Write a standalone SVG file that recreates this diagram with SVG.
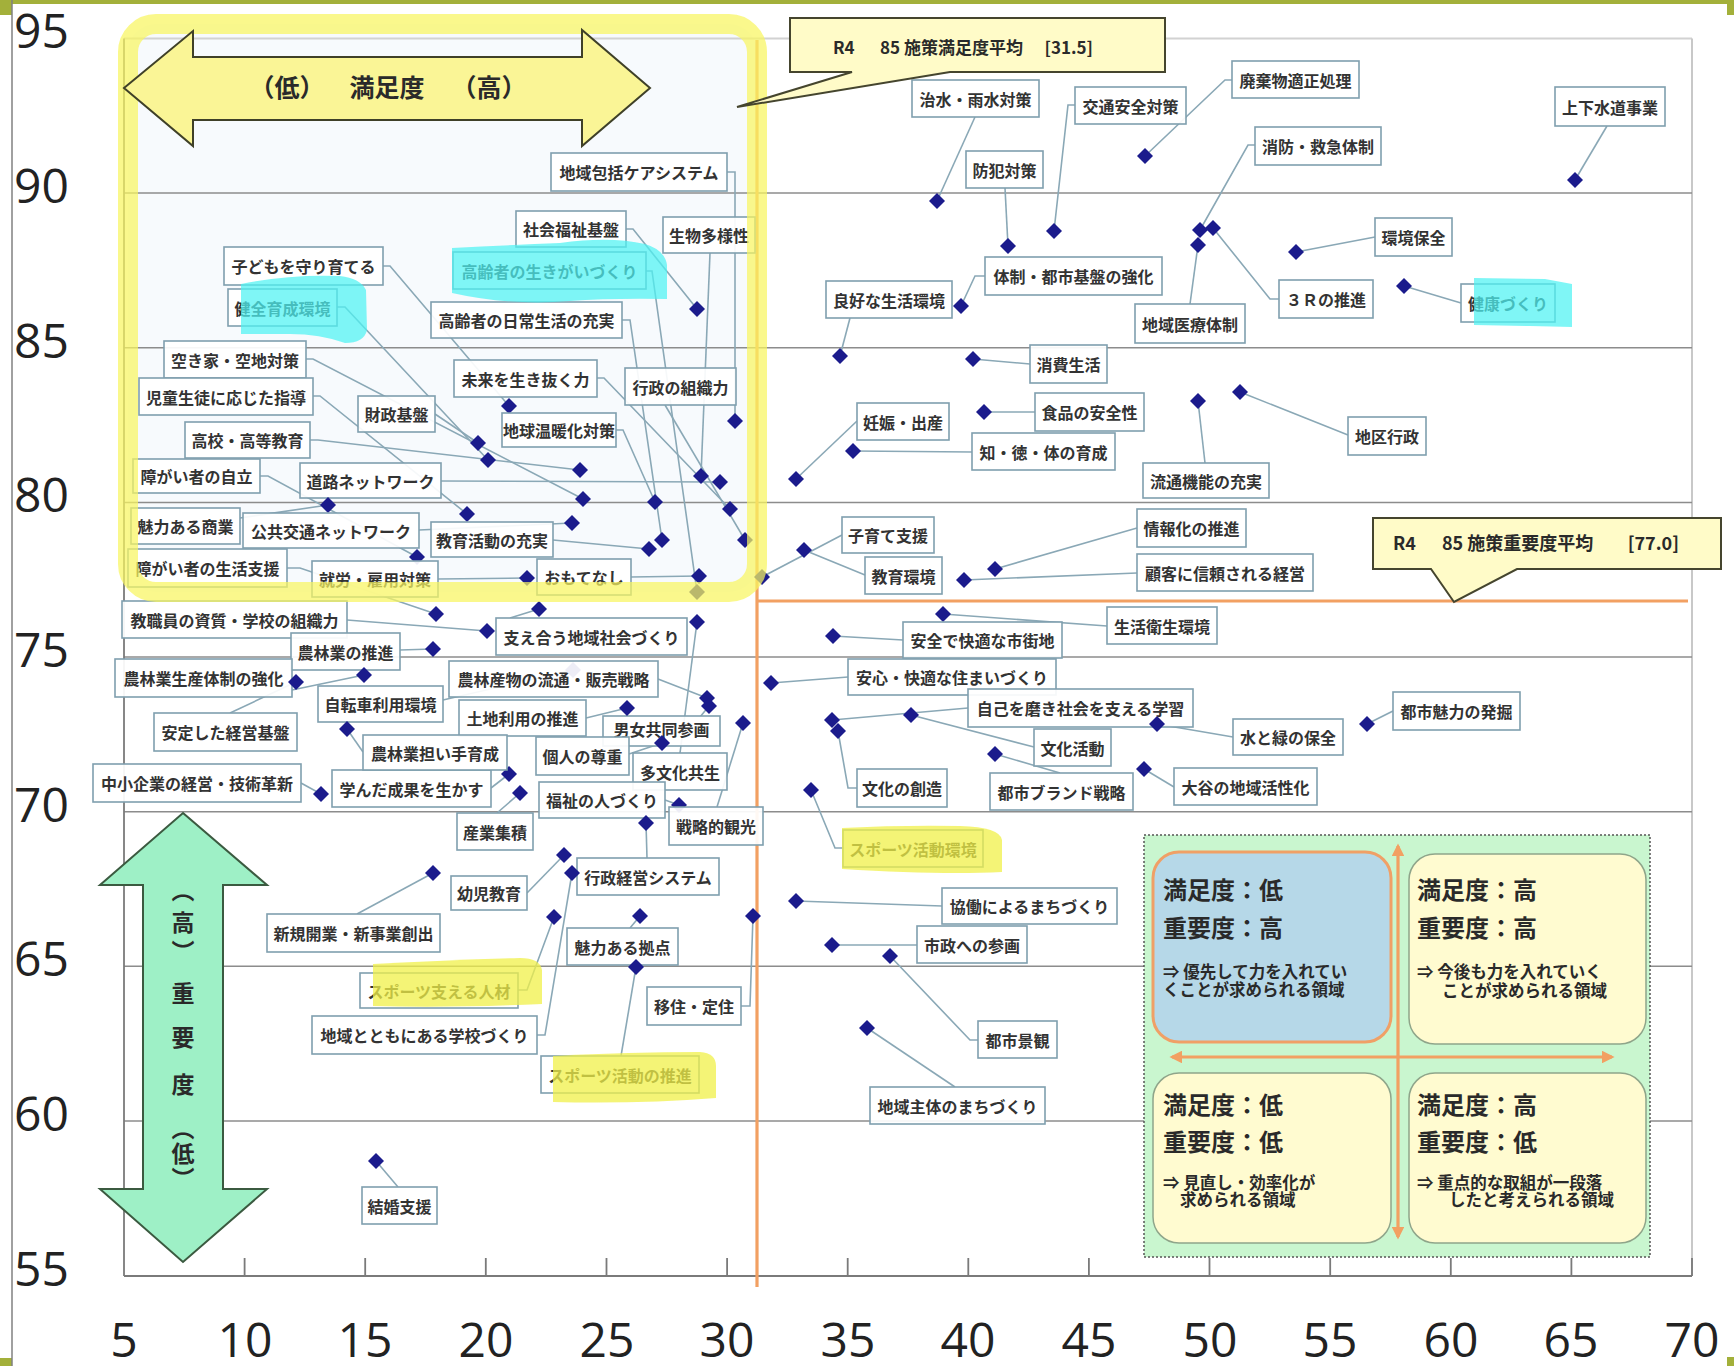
<svg xmlns="http://www.w3.org/2000/svg" xmlns:xlink="http://www.w3.org/1999/xlink" width="1734" height="1366" viewBox="0 0 1734 1366">
<style>
  .grid{stroke:#8c8c8c;stroke-width:1.5;fill:none}
  .axis{stroke:#7a7a7a;stroke-width:1.8;fill:none}
  .num{font-family:"Open Sans","Liberation Sans",sans-serif;font-size:48px;fill:#222}
  .con{stroke:#8aa8b6;stroke-width:1.6;fill:none}
  .lb{fill:#ffffff;fill-opacity:0.92;stroke:#7f9fae;stroke-width:1.6}
  .lt{font-family:"Noto Sans CJK JP",sans-serif;font-size:16px;font-weight:bold;fill:#333;text-anchor:middle;dominant-baseline:central}
  .big{font-family:"Noto Sans CJK JP",sans-serif;font-weight:bold;fill:#2a2a2a}
  .q{font-family:"Noto Sans CJK JP",sans-serif;font-weight:bold;fill:#2a2a2a;font-size:24px}
  .qs{font-family:"Noto Sans CJK JP",sans-serif;font-weight:bold;fill:#2a2a2a;font-size:16.5px}
  .cyan{fill:#4ef2f2;fill-opacity:0.72}
  .yel{fill:#f0f048;fill-opacity:0.75}
  .orange{stroke:#f2a062;stroke-width:3.2;fill:none}
  .qbox{fill:#fffbd0;stroke:#8fa58a;stroke-width:1.5}
</style>
<defs>
  <path id="dm" d="M0,-8 L8,0 L0,8 L-8,0 Z" fill="#1b1b8c"/>
  <marker id="oa" viewBox="0 0 10 10" refX="8" refY="5" markerWidth="4" markerHeight="4" orient="auto-start-reverse">
    <path d="M0,0 L10,5 L0,10 Z" fill="#f2a062"/>
  </marker>
</defs>

<!-- page frame -->
<rect x="0" y="0" width="1734" height="1366" fill="#ffffff"/>
<rect x="0" y="0" width="1734" height="4" fill="#a3b03a"/>
<rect x="0" y="0" width="12" height="15" fill="#a3b03a"/>
<rect x="1727" y="0" width="7" height="15" fill="#a3b03a"/>
<rect x="0" y="1358" width="12" height="8" fill="#a3b03a"/>
<rect x="1727" y="1357" width="7" height="9" fill="#a3b03a"/>
<line x1="12" y1="0" x2="12" y2="1366" stroke="#808080" stroke-width="1.5"/>

<!-- highlighted region fill -->
<rect x="128" y="24" width="629" height="568" rx="28" fill="#f1f7fc" fill-opacity="0.6"/>

<!-- plot grid -->
<g id="grid">
  <line x1="124" y1="38.5" x2="1692" y2="38.5" stroke="#d2d2d2" stroke-width="2"/>
  <line x1="1692" y1="38.5" x2="1692" y2="1276" stroke="#c8c8c8" stroke-width="2"/>
  <line class="grid" x1="124" y1="193" x2="1692" y2="193"/>
  <line class="grid" x1="124" y1="347.7" x2="1692" y2="347.7"/>
  <line class="grid" x1="124" y1="502.4" x2="1692" y2="502.4"/>
  <line class="grid" x1="124" y1="657" x2="1692" y2="657"/>
  <line class="grid" x1="124" y1="811.7" x2="1692" y2="811.7"/>
  <line class="grid" x1="124" y1="966.3" x2="1692" y2="966.3"/>
  <line class="grid" x1="124" y1="1121" x2="1692" y2="1121"/>
  <line class="axis" x1="124" y1="38.5" x2="124" y2="1276"/>
  <line class="axis" x1="124" y1="1276" x2="1692" y2="1276"/>
  <path class="axis" d="M244.6,1276v-18 M365.2,1276v-18 M485.8,1276v-18 M606.5,1276v-18 M727.1,1276v-18 M847.7,1276v-18 M968.3,1276v-18 M1088.9,1276v-18 M1209.5,1276v-18 M1330.2,1276v-18 M1450.8,1276v-18 M1571.4,1276v-18 M1692,1276v-18"/>
</g>

<!-- axis numbers -->
<g id="yaxis" class="num">
  <text x="14" y="48">95</text>
  <text x="14" y="203">90</text>
  <text x="14" y="358">85</text>
  <text x="14" y="512">80</text>
  <text x="14" y="667">75</text>
  <text x="14" y="822">70</text>
  <text x="14" y="976">65</text>
  <text x="14" y="1131">60</text>
  <text x="14" y="1286">55</text>
</g>
<g id="xaxis" class="num" text-anchor="middle">
  <text x="124" y="1357">5</text>
  <text x="245" y="1357">10</text>
  <text x="365" y="1357">15</text>
  <text x="486" y="1357">20</text>
  <text x="607" y="1357">25</text>
  <text x="727" y="1357">30</text>
  <text x="848" y="1357">35</text>
  <text x="968" y="1357">40</text>
  <text x="1089" y="1357">45</text>
  <text x="1210" y="1357">50</text>
  <text x="1330" y="1357">55</text>
  <text x="1451" y="1357">60</text>
  <text x="1571" y="1357">65</text>
  <text x="1692" y="1357">70</text>
</g>

<!-- average lines -->
<g id="averages">
  <line class="orange" x1="757" y1="40" x2="757" y2="1287"/>
  <line class="orange" x1="757" y1="601" x2="1688" y2="601"/>
</g>

<!-- leader lines -->
<g id="connectors" class="con">
  <polyline points="383,266 390,266 509,406"/>
  <polyline points="337,307 345,307 488,460"/>
  <polyline points="306,359 313,359 583,499"/>
  <polyline points="313,396 320,396 467,514"/>
  <polyline points="435,414 478,443"/>
  <polyline points="310,440 318,440 580,470"/>
  <polyline points="260,476 268,476 417,557"/>
  <polyline points="441,481 720,482"/>
  <polyline points="240,518 328,505"/>
  <polyline points="419,530 572,523"/>
  <polyline points="287,568 300,568 436,614"/>
  <polyline points="438,579 527,578"/>
  <polyline points="553,540 649,549"/>
  <polyline points="631,577 699,576"/>
  <polyline points="727,172 735,172 735,421"/>
  <polyline points="626,229 633,229 697,309"/>
  <polyline points="710,253 701,476"/>
  <polyline points="646,271 652,271 697,592"/>
  <polyline points="622,320 630,320 662,540"/>
  <polyline points="597,378 604,378 730,509"/>
  <polyline points="665,405 745,540"/>
  <polyline points="616,430 623,430 655,502"/>
  <polyline points="347,620 487,631"/>
  <polyline points="400,650 433,649"/>
  <polyline points="292,690 364,675"/>
  <polyline points="443,700 573,670"/>
  <polyline points="230,713 296,682"/>
  <polyline points="510,618 539,609"/>
  <polyline points="658,679 707,698"/>
  <polyline points="586,718 627,708"/>
  <polyline points="700,717 709,706"/>
  <polyline points="629,754 662,743"/>
  <polyline points="680,753 697,622"/>
  <polyline points="665,800 679,805"/>
  <polyline points="717,807 743,723"/>
  <polyline points="497,813 520,793"/>
  <polyline points="491,788 509,774"/>
  <polyline points="301,783 321,794"/>
  <polyline points="363,752 347,729"/>
  <polyline points="647,858 646,823"/>
  <polyline points="527,893 564,855"/>
  <polyline points="357,914 433,873"/>
  <polyline points="518,990 527,990 554,917"/>
  <polyline points="537,1035 545,1035 572,873"/>
  <polyline points="630,928 640,916"/>
  <polyline points="621,1056 636,967"/>
  <polyline points="741,1006 750,1006 753,916"/>
  <polyline points="398,1187 376,1161"/>
  <polyline points="850,318 840,356"/>
  <polyline points="985,276 975,276 961,306"/>
  <polyline points="975,117 937,201"/>
  <polyline points="1005,188 1008,246"/>
  <polyline points="1075,105 1068,105 1054,231"/>
  <polyline points="1232,80 1225,80 1145,156"/>
  <polyline points="1255,145 1248,145 1200,230"/>
  <polyline points="1607,126 1575,180"/>
  <polyline points="1375,237 1296,252"/>
  <polyline points="1279,299 1270,299 1213,228"/>
  <polyline points="1461,303 1404,286"/>
  <polyline points="1190,304 1198,245"/>
  <polyline points="1030,364 973,359"/>
  <polyline points="1035,412 984,412"/>
  <polyline points="972,452 853,451"/>
  <polyline points="857,421 796,479"/>
  <polyline points="1205,463 1198,401"/>
  <polyline points="1348,435 1240,392"/>
  <polyline points="842,535 762,577"/>
  <polyline points="865,575 804,550"/>
  <polyline points="1137,528 995,569"/>
  <polyline points="1137,573 964,580"/>
  <polyline points="1107,626 943,614"/>
  <polyline points="903,640 833,636"/>
  <polyline points="848,677 771,683"/>
  <polyline points="968,708 832,720"/>
  <polyline points="1034,747 911,715"/>
  <polyline points="1233,737 1157,724"/>
  <polyline points="1393,711 1367,724"/>
  <polyline points="1174,787 1144,769"/>
  <polyline points="1060,773 995,754"/>
  <polyline points="857,788 848,788 838,731"/>
  <polyline points="843,848 835,848 811,790"/>
  <polyline points="942,906 796,901"/>
  <polyline points="917,945 832,945"/>
  <polyline points="978,1040 970,1040 890,956"/>
  <polyline points="955,1087 867,1028"/>
</g>

<!-- measures: marker + label -->
<g id="n01"><use href="#dm" x="509" y="406"/><rect class="lb" x="224" y="247" width="159" height="38"/><text class="lt" x="303.5" y="266">子どもを守り育てる</text></g>
<g id="n02"><use href="#dm" x="488" y="460"/><rect class="lb" x="228" y="289" width="109" height="37"/><text class="lt" x="282.5" y="307.5">健全育成環境</text></g>
<g id="n03"><use href="#dm" x="583" y="499"/><rect class="lb" x="164" y="341" width="142" height="37"/><text class="lt" x="235" y="359.5">空き家・空地対策</text></g>
<g id="n04"><use href="#dm" x="467" y="514"/><rect class="lb" x="139" y="378" width="174" height="37"/><text class="lt" x="226" y="396.5">児童生徒に応じた指導</text></g>
<g id="n05"><use href="#dm" x="478" y="443"/><rect class="lb" x="358" y="396" width="77" height="36"/><text class="lt" x="396.5" y="414">財政基盤</text></g>
<g id="n06"><use href="#dm" x="580" y="470"/><rect class="lb" x="185" y="422" width="125" height="36"/><text class="lt" x="247.5" y="440">高校・高等教育</text></g>
<g id="n07"><use href="#dm" x="417" y="557"/><rect class="lb" x="133" y="459" width="127" height="34"/><text class="lt" x="196.5" y="476">障がい者の自立</text></g>
<g id="n08"><use href="#dm" x="720" y="482"/><rect class="lb" x="300" y="463" width="141" height="35"/><text class="lt" x="370.5" y="480.5">道路ネットワーク</text></g>
<g id="n09"><use href="#dm" x="328" y="505"/><rect class="lb" x="131" y="508" width="109" height="36"/><text class="lt" x="185.5" y="526">魅力ある商業</text></g>
<g id="n10"><use href="#dm" x="572" y="523"/><rect class="lb" x="243" y="513" width="176" height="35"/><text class="lt" x="331" y="530.5">公共交通ネットワーク</text></g>
<g id="n11"><use href="#dm" x="436" y="614"/><rect class="lb" x="128" y="549" width="159" height="38"/><text class="lt" x="207.5" y="568">障がい者の生活支援</text></g>
<g id="n12"><use href="#dm" x="527" y="578"/><rect class="lb" x="312" y="561" width="126" height="36"/><text class="lt" x="375" y="579">就労・雇用対策</text></g>
<g id="n13"><use href="#dm" x="649" y="549"/><rect class="lb" x="431" y="522" width="122" height="35"/><text class="lt" x="492" y="539.5">教育活動の充実</text></g>
<g id="n14"><use href="#dm" x="699" y="576"/><rect class="lb" x="537" y="559" width="94" height="36"/><text class="lt" x="584" y="577">おもてなし</text></g>
<g id="n15"><use href="#dm" x="735" y="421"/><rect class="lb" x="551" y="153" width="176" height="38"/><text class="lt" x="639" y="172">地域包括ケアシステム</text></g>
<g id="n16"><use href="#dm" x="697" y="309"/><rect class="lb" x="516" y="211" width="110" height="36"/><text class="lt" x="571" y="229">社会福祉基盤</text></g>
<g id="n17"><use href="#dm" x="701" y="476"/><rect class="lb" x="663" y="217" width="92" height="36"/><text class="lt" x="709" y="235">生物多様性</text></g>
<g id="n18"><use href="#dm" x="697" y="592"/><rect class="lb" x="453" y="252" width="193" height="37"/><text class="lt" x="549.5" y="270.5">高齢者の生きがいづくり</text></g>
<g id="n19"><use href="#dm" x="662" y="540"/><rect class="lb" x="431" y="302" width="191" height="36"/><text class="lt" x="526.5" y="320">高齢者の日常生活の充実</text></g>
<g id="n20"><use href="#dm" x="730" y="509"/><rect class="lb" x="454" y="360" width="143" height="37"/><text class="lt" x="525.5" y="378.5">未来を生き抜く力</text></g>
<g id="n21"><use href="#dm" x="745" y="540"/><rect class="lb" x="625" y="368" width="111" height="37"/><text class="lt" x="680.5" y="386.5">行政の組織力</text></g>
<g id="n22"><use href="#dm" x="655" y="502"/><rect class="lb" x="502" y="413" width="114" height="34"/><text class="lt" x="559" y="430">地球温暖化対策</text></g>
<g id="n23"><use href="#dm" x="487" y="631"/><rect class="lb" x="122" y="601" width="225" height="37"/><text class="lt" x="234.5" y="619.5">教職員の資質・学校の組織力</text></g>
<g id="n24"><use href="#dm" x="433" y="649"/><rect class="lb" x="291" y="633" width="109" height="37"/><text class="lt" x="345.5" y="651.5">農林業の推進</text></g>
<g id="n25"><use href="#dm" x="364" y="675"/><rect class="lb" x="115" y="659" width="177" height="38"/><text class="lt" x="203.5" y="678">農林業生産体制の強化</text></g>
<g id="n26"><use href="#dm" x="573" y="670"/><rect class="lb" x="318" y="686" width="125" height="36"/><text class="lt" x="380.5" y="704">自転車利用環境</text></g>
<g id="n27"><use href="#dm" x="296" y="682"/><rect class="lb" x="154" y="713" width="143" height="38"/><text class="lt" x="225.5" y="732">安定した経営基盤</text></g>
<g id="n28"><use href="#dm" x="539" y="609"/><rect class="lb" x="496" y="618" width="191" height="37"/><text class="lt" x="591.5" y="636.5">支え合う地域社会づくり</text></g>
<g id="n29"><use href="#dm" x="707" y="698"/><rect class="lb" x="449" y="661" width="209" height="36"/><text class="lt" x="553.5" y="679">農林産物の流通・販売戦略</text></g>
<g id="n31"><use href="#dm" x="709" y="706"/><rect class="lb" x="603" y="716" width="117" height="30"/><text class="lt" x="661.5" y="729">男女共同参画</text></g>
<g id="n30"><use href="#dm" x="627" y="708"/><rect class="lb" x="459" y="700" width="127" height="36"/><text class="lt" x="522.5" y="718">土地利用の推進</text></g>
<g id="n32"><use href="#dm" x="662" y="743"/><rect class="lb" x="536" y="737" width="93" height="38"/><text class="lt" x="582.5" y="756">個人の尊重</text></g>
<g id="n33"><use href="#dm" x="697" y="622"/><rect class="lb" x="633" y="753" width="94" height="37"/><text class="lt" x="680" y="771.5">多文化共生</text></g>
<g id="n34"><use href="#dm" x="679" y="805"/><rect class="lb" x="539" y="782" width="126" height="36"/><text class="lt" x="602" y="800">福祉の人づくり</text></g>
<g id="n35"><use href="#dm" x="743" y="723"/><rect class="lb" x="669" y="807" width="94" height="38"/><text class="lt" x="716" y="826">戦略的観光</text></g>
<g id="n36"><use href="#dm" x="520" y="793"/><rect class="lb" x="457" y="813" width="76" height="37"/><text class="lt" x="495" y="831.5">産業集積</text></g>
<g id="n37"><use href="#dm" x="509" y="774"/><rect class="lb" x="332" y="770" width="159" height="37"/><text class="lt" x="411.5" y="788.5">学んだ成果を生かす</text></g>
<g id="n38"><use href="#dm" x="321" y="794"/><rect class="lb" x="93" y="764" width="208" height="38"/><text class="lt" x="197" y="783">中小企業の経営・技術革新</text></g>
<g id="n39"><use href="#dm" x="347" y="729"/><rect class="lb" x="363" y="735" width="144" height="35"/><text class="lt" x="435" y="752.5">農林業担い手育成</text></g>
<g id="n40"><use href="#dm" x="646" y="823"/><rect class="lb" x="577" y="858" width="142" height="37"/><text class="lt" x="648" y="876.5">行政経営システム</text></g>
<g id="n41"><use href="#dm" x="564" y="855"/><rect class="lb" x="451" y="876" width="76" height="34"/><text class="lt" x="489" y="893">幼児教育</text></g>
<g id="n42"><use href="#dm" x="433" y="873"/><rect class="lb" x="267" y="914" width="173" height="38"/><text class="lt" x="353.5" y="933">新規開業・新事業創出</text></g>
<g id="n43"><use href="#dm" x="554" y="917"/><rect class="lb" x="360" y="973" width="158" height="35"/><text class="lt" x="439" y="990.5">スポーツ支える人材</text></g>
<g id="n44"><use href="#dm" x="572" y="873"/><rect class="lb" x="312" y="1016" width="225" height="38"/><text class="lt" x="424.5" y="1035">地域とともにある学校づくり</text></g>
<g id="n45"><use href="#dm" x="640" y="916"/><rect class="lb" x="567" y="928" width="111" height="37"/><text class="lt" x="622.5" y="946.5">魅力ある拠点</text></g>
<g id="n46"><use href="#dm" x="636" y="967"/><rect class="lb" x="541" y="1056" width="158" height="37"/><text class="lt" x="620" y="1074.5">スポーツ活動の推進</text></g>
<g id="n47"><use href="#dm" x="753" y="916"/><rect class="lb" x="647" y="987" width="94" height="38"/><text class="lt" x="694" y="1006">移住・定住</text></g>
<g id="n48"><use href="#dm" x="376" y="1161"/><rect class="lb" x="362" y="1187" width="75" height="37"/><text class="lt" x="399.5" y="1205.5">結婚支援</text></g>
<g id="n49"><use href="#dm" x="840" y="356"/><rect class="lb" x="826" y="281" width="126" height="37"/><text class="lt" x="889" y="299.5">良好な生活環境</text></g>
<g id="n50"><use href="#dm" x="961" y="306"/><rect class="lb" x="985" y="257" width="177" height="38"/><text class="lt" x="1073.5" y="276">体制・都市基盤の強化</text></g>
<g id="n51"><use href="#dm" x="937" y="201"/><rect class="lb" x="912" y="80" width="127" height="37"/><text class="lt" x="975.5" y="98.5">治水・雨水対策</text></g>
<g id="n52"><use href="#dm" x="1008" y="246"/><rect class="lb" x="966" y="151" width="77" height="37"/><text class="lt" x="1004.5" y="169.5">防犯対策</text></g>
<g id="n53"><use href="#dm" x="1054" y="231"/><rect class="lb" x="1075" y="87" width="111" height="37"/><text class="lt" x="1130.5" y="105.5">交通安全対策</text></g>
<g id="n54"><use href="#dm" x="1145" y="156"/><rect class="lb" x="1232" y="61" width="127" height="37"/><text class="lt" x="1295.5" y="79.5">廃棄物適正処理</text></g>
<g id="n55"><use href="#dm" x="1200" y="230"/><rect class="lb" x="1255" y="127" width="126" height="38"/><text class="lt" x="1318" y="146">消防・救急体制</text></g>
<g id="n56"><use href="#dm" x="1575" y="180"/><rect class="lb" x="1555" y="87" width="110" height="39"/><text class="lt" x="1610" y="106.5">上下水道事業</text></g>
<g id="n57"><use href="#dm" x="1296" y="252"/><rect class="lb" x="1375" y="218" width="77" height="38"/><text class="lt" x="1413.5" y="237">環境保全</text></g>
<g id="n58"><use href="#dm" x="1213" y="228"/><rect class="lb" x="1279" y="280" width="94" height="38"/><text class="lt" x="1326" y="299">３Ｒの推進</text></g>
<g id="n59"><use href="#dm" x="1404" y="286"/><rect class="lb" x="1461" y="284" width="94" height="38"/><text class="lt" x="1508" y="303">健康づくり</text></g>
<g id="n60"><use href="#dm" x="1198" y="245"/><rect class="lb" x="1135" y="304" width="110" height="39"/><text class="lt" x="1190" y="323.5">地域医療体制</text></g>
<g id="n61"><use href="#dm" x="973" y="359"/><rect class="lb" x="1030" y="345" width="77" height="38"/><text class="lt" x="1068.5" y="364">消費生活</text></g>
<g id="n62"><use href="#dm" x="984" y="412"/><rect class="lb" x="1035" y="393" width="109" height="38"/><text class="lt" x="1089.5" y="412">食品の安全性</text></g>
<g id="n63"><use href="#dm" x="853" y="451"/><rect class="lb" x="972" y="433" width="143" height="37"/><text class="lt" x="1043.5" y="451.5">知・徳・体の育成</text></g>
<g id="n64"><use href="#dm" x="796" y="479"/><rect class="lb" x="857" y="403" width="92" height="37"/><text class="lt" x="903" y="421.5">妊娠・出産</text></g>
<g id="n65"><use href="#dm" x="1198" y="401"/><rect class="lb" x="1143" y="463" width="126" height="35"/><text class="lt" x="1206" y="480.5">流通機能の充実</text></g>
<g id="n66"><use href="#dm" x="1240" y="392"/><rect class="lb" x="1348" y="417" width="78" height="38"/><text class="lt" x="1387" y="436">地区行政</text></g>
<g id="n67"><use href="#dm" x="762" y="577"/><rect class="lb" x="842" y="517" width="92" height="36"/><text class="lt" x="888" y="535">子育て支援</text></g>
<g id="n68"><use href="#dm" x="804" y="550"/><rect class="lb" x="865" y="557" width="77" height="37"/><text class="lt" x="903.5" y="575.5">教育環境</text></g>
<g id="n69"><use href="#dm" x="995" y="569"/><rect class="lb" x="1137" y="509" width="109" height="38"/><text class="lt" x="1191.5" y="528">情報化の推進</text></g>
<g id="n70"><use href="#dm" x="964" y="580"/><rect class="lb" x="1137" y="554" width="176" height="37"/><text class="lt" x="1225" y="572.5">顧客に信頼される経営</text></g>
<g id="n71"><use href="#dm" x="943" y="614"/><rect class="lb" x="1107" y="607" width="110" height="37"/><text class="lt" x="1162" y="625.5">生活衛生環境</text></g>
<g id="n72"><use href="#dm" x="833" y="636"/><rect class="lb" x="903" y="622" width="159" height="36"/><text class="lt" x="982.5" y="640">安全で快適な市街地</text></g>
<g id="n73"><use href="#dm" x="771" y="683"/><rect class="lb" x="848" y="659" width="208" height="36"/><text class="lt" x="952" y="677">安心・快適な住まいづくり</text></g>
<g id="n74"><use href="#dm" x="832" y="720"/><rect class="lb" x="968" y="689" width="225" height="38"/><text class="lt" x="1080.5" y="708">自己を磨き社会を支える学習</text></g>
<g id="n75"><use href="#dm" x="911" y="715"/><rect class="lb" x="1034" y="729" width="77" height="37"/><text class="lt" x="1072.5" y="747.5">文化活動</text></g>
<g id="n76"><use href="#dm" x="1157" y="724"/><rect class="lb" x="1233" y="719" width="110" height="36"/><text class="lt" x="1288" y="737">水と緑の保全</text></g>
<g id="n77"><use href="#dm" x="1367" y="724"/><rect class="lb" x="1393" y="692" width="127" height="38"/><text class="lt" x="1456.5" y="711">都市魅力の発掘</text></g>
<g id="n78"><use href="#dm" x="1144" y="769"/><rect class="lb" x="1174" y="768" width="143" height="37"/><text class="lt" x="1245.5" y="786.5">大谷の地域活性化</text></g>
<g id="n79"><use href="#dm" x="995" y="754"/><rect class="lb" x="990" y="773" width="143" height="37"/><text class="lt" x="1061.5" y="791.5">都市ブランド戦略</text></g>
<g id="n80"><use href="#dm" x="838" y="731"/><rect class="lb" x="857" y="769" width="90" height="38"/><text class="lt" x="902" y="788">文化の創造</text></g>
<g id="n81"><use href="#dm" x="811" y="790"/><rect class="lb" x="843" y="830" width="140" height="37"/><text class="lt" x="913" y="848.5">スポーツ活動環境</text></g>
<g id="n82"><use href="#dm" x="796" y="901"/><rect class="lb" x="942" y="888" width="175" height="36"/><text class="lt" x="1029.5" y="906">協働によるまちづくり</text></g>
<g id="n83"><use href="#dm" x="832" y="945"/><rect class="lb" x="917" y="926" width="110" height="37"/><text class="lt" x="972" y="944.5">市政への参画</text></g>
<g id="n84"><use href="#dm" x="890" y="956"/><rect class="lb" x="978" y="1021" width="79" height="37"/><text class="lt" x="1017.5" y="1039.5">都市景観</text></g>
<g id="n85"><use href="#dm" x="867" y="1028"/><rect class="lb" x="870" y="1087" width="175" height="37"/><text class="lt" x="957.5" y="1105.5">地域主体のまちづくり</text></g>

<!-- marker-pen highlights -->
<g id="highlights">
  <path class="cyan" d="M241,284 Q290,274 340,276 Q360,278 366,290 L367,330 Q364,343 345,343 Q320,334 290,334 L241,334 Z"/>
  <path class="cyan" d="M452,248 Q510,245 560,243 Q610,236 645,244 Q665,250 667,265 L667,299 Q610,298 570,301 Q510,306 452,293 Z"/>
  <path class="cyan" d="M1474,278 L1545,279 L1572,284 L1572,327 L1530,326 L1474,325 Z"/>
  <path class="yel" d="M842,828 Q900,825 960,826 Q1000,827 1002,840 L1002,872 Q940,875 842,869 Z"/>
  <path class="yel" d="M373,964 Q450,960 520,958 Q540,958 542,970 L542,1004 Q450,1008 373,1006 Z"/>
  <path class="yel" d="M553,1056 Q630,1052 700,1052 Q716,1053 716,1066 L716,1098 Q640,1104 553,1102 Z"/>
</g>

<!-- emphasis frame around the low-satisfaction / high-importance area -->
<rect x="128" y="24" width="629" height="568" rx="28" fill="none" stroke="#f8f560" stroke-opacity="0.72" stroke-width="20"/>

<!-- satisfaction arrow -->
<g id="satisfaction-arrow">
  <path d="M124,88 L193,31 L193,57 L582,57 L582,30 L650,88 L582,146 L582,120 L193,120 L193,146 Z" fill="#faf596" stroke="#3f4028" stroke-width="2"/>
  <text class="big" font-size="25" x="287" y="97" text-anchor="middle">（低）</text>
  <text class="big" font-size="25" x="387" y="97" text-anchor="middle">満足度</text>
  <text class="big" font-size="25" x="489" y="97" text-anchor="middle">（高）</text>
</g>

<!-- importance arrow -->
<g id="importance-arrow">
  <path d="M183,813 L267,885 L223,885 L223,1189 L267,1189 L183,1262 L100,1189 L143,1189 L143,885 L100,885 Z" fill="#9ef0c6" stroke="#3b5a40" stroke-width="2"/>
  <g class="big" font-size="23" text-anchor="middle">
    <text x="183" y="899">︵</text>
    <text x="183" y="931">高</text>
    <text x="183" y="960">︶</text>
    <text x="183" y="1002">重</text>
    <text x="183" y="1046">要</text>
    <text x="183" y="1093">度</text>
    <text x="183" y="1137">︵</text>
    <text x="183" y="1162">低</text>
    <text x="183" y="1187">︶</text>
  </g>
</g>

<!-- average callouts -->
<g id="callout-satisfaction">
  <path d="M790,18 L1165,18 L1165,72 L950,72 L737,107 L852,72 L790,72 Z" fill="#fffbc8" stroke="#45452e" stroke-width="2"/>
  <text class="big" font-size="17" x="833" y="54">R4</text>
  <text class="big" font-size="17" x="880" y="54">85 施策満足度平均</text>
  <text class="big" font-size="17" x="1093" y="54" text-anchor="end">[31.5]</text>
</g>
<g id="callout-importance">
  <path d="M1373,518 L1721,518 L1721,569 L1517,569 L1454,602 L1431,569 L1373,569 Z" fill="#fffbc8" stroke="#45452e" stroke-width="2"/>
  <text class="big" font-size="18" x="1393" y="550">R4</text>
  <text class="big" font-size="18" x="1442" y="550">85 施策重要度平均</text>
  <text class="big" font-size="18" x="1679" y="550" text-anchor="end">[77.0]</text>
</g>

<!-- quadrant legend -->
<g id="legend">
  <rect x="1144" y="835" width="506" height="422" fill="#c9f6cf" stroke="#555" stroke-width="1.5" stroke-dasharray="2,2"/>
  <rect x="1153" y="852" width="238" height="190" rx="26" fill="#b6d8e8" stroke="#f0a066" stroke-width="3"/>
  <rect class="qbox" x="1409" y="854" width="237" height="190" rx="26"/>
  <rect class="qbox" x="1153" y="1073" width="238" height="170" rx="26"/>
  <rect class="qbox" x="1409" y="1073" width="237" height="170" rx="26"/>
  <line class="orange" x1="1172" y1="1057" x2="1612" y2="1057" marker-start="url(#oa)" marker-end="url(#oa)"/>
  <line class="orange" x1="1398" y1="846" x2="1398" y2="1237" marker-start="url(#oa)" marker-end="url(#oa)"/>
  <text class="q" x="1163" y="899">満足度：低</text>
  <text class="q" x="1163" y="937">重要度：高</text>
  <text class="qs" x="1163" y="978">⇒ 優先して力を入れてい</text>
  <text class="qs" x="1163" y="996">くことが求められる領域</text>
  <text class="q" x="1417" y="899">満足度：高</text>
  <text class="q" x="1417" y="937">重要度：高</text>
  <text class="qs" x="1417" y="978">⇒ 今後も力を入れていく</text>
  <text class="qs" x="1442" y="997">ことが求められる領域</text>
  <text class="q" x="1163" y="1114">満足度：低</text>
  <text class="q" x="1163" y="1151">重要度：低</text>
  <text class="qs" x="1163" y="1189">⇒ 見直し・効率化が</text>
  <text class="qs" x="1180" y="1206">求められる領域</text>
  <text class="q" x="1417" y="1114">満足度：高</text>
  <text class="q" x="1417" y="1151">重要度：低</text>
  <text class="qs" x="1417" y="1189">⇒ 重点的な取組が一段落</text>
  <text class="qs" x="1449" y="1206">したと考えられる領域</text>
</g>
</svg>
